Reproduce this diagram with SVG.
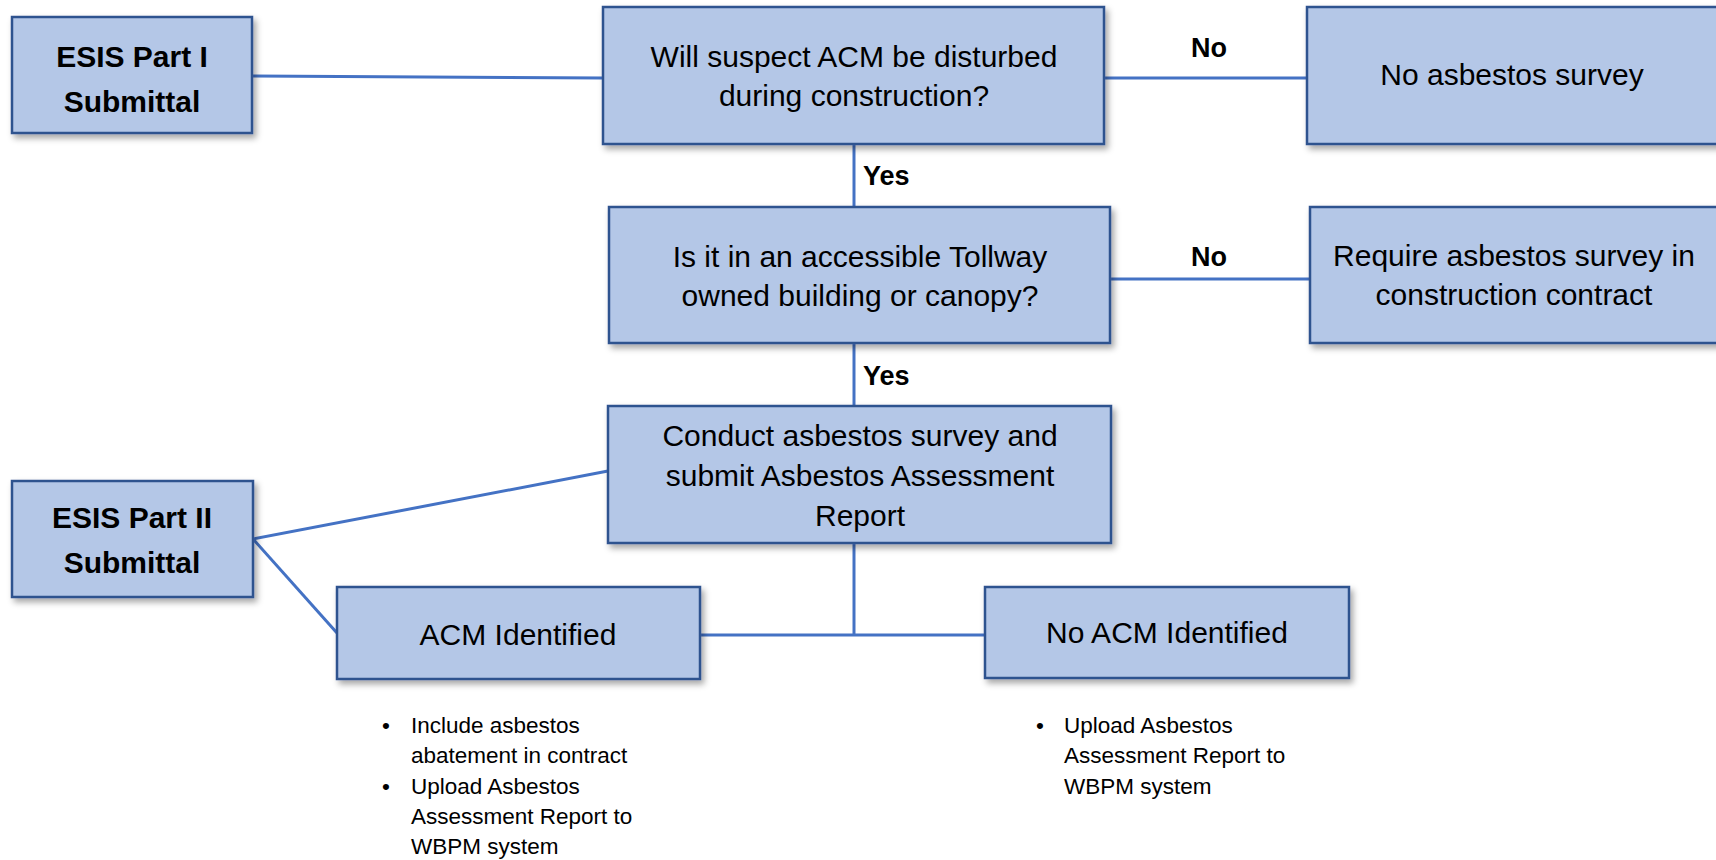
<svg xmlns="http://www.w3.org/2000/svg" width="1716" height="860" viewBox="0 0 1716 860">
  <defs>
    <filter id="shadow" x="-10%" y="-10%" width="130%" height="140%">
      <feDropShadow dx="3" dy="4" stdDeviation="3" flood-color="#000" flood-opacity="0.35"/>
    </filter>
  </defs>
  <style>
    .box { fill: #B4C7E7; stroke: #2F528F; stroke-width: 2.5; filter: url(#shadow); }
    .t { font-family: "Liberation Sans", Arial, sans-serif; font-size: 30px; fill: #000; text-anchor: middle; }
    .b { font-family: "Liberation Sans", Arial, sans-serif; font-size: 30px; font-weight: bold; fill: #000; text-anchor: middle; }
    .lbl { font-family: "Liberation Sans", Arial, sans-serif; font-size: 27px; font-weight: bold; fill: #000; }
    .note { font-family: "Liberation Sans", Arial, sans-serif; font-size: 22.5px; fill: #000; }
    .conn { stroke: #4472C4; stroke-width: 3; fill: none; }
  </style>
  <rect width="1716" height="860" fill="#FFFFFF"/>

  <!-- connectors -->
  <g id="connectors">
    <line class="conn" x1="253" y1="76" x2="603" y2="78"/>
    <line class="conn" x1="1104" y1="78" x2="1307" y2="78"/>
    <line class="conn" x1="854" y1="144" x2="854" y2="207"/>
    <line class="conn" x1="1110" y1="279" x2="1310" y2="279"/>
    <line class="conn" x1="854" y1="343" x2="854" y2="406"/>
    <line class="conn" x1="253" y1="539" x2="608" y2="471"/>
    <line class="conn" x1="253" y1="539" x2="337" y2="633"/>
    <line class="conn" x1="854" y1="543" x2="854" y2="635"/>
    <line class="conn" x1="700" y1="635" x2="985" y2="635"/>
    <text class="lbl" x="1209" y="57" text-anchor="middle">No</text>
    <text class="lbl" x="863" y="185">Yes</text>
    <text class="lbl" x="1209" y="266" text-anchor="middle">No</text>
    <text class="lbl" x="863" y="385">Yes</text>
  </g>

  <g id="esis-part-1">
    <rect class="box" x="12" y="17" width="240" height="116"/>
    <text class="b" x="132" y="67">ESIS Part I</text>
    <text class="b" x="132" y="112">Submittal</text>
  </g>

  <g id="q-disturbed">
    <rect class="box" x="603" y="7" width="501" height="137"/>
    <text class="t" x="854" y="67">Will suspect ACM be disturbed</text>
    <text class="t" x="854" y="106">during construction?</text>
  </g>

  <g id="no-survey">
    <rect class="box" x="1307" y="7" width="414" height="137"/>
    <text class="t" x="1512" y="85">No asbestos survey</text>
  </g>

  <g id="q-tollway">
    <rect class="box" x="609" y="207" width="501" height="136"/>
    <text class="t" x="860" y="267">Is it in an accessible Tollway</text>
    <text class="t" x="860" y="306">owned building or canopy?</text>
  </g>

  <g id="require-survey">
    <rect class="box" x="1310" y="207" width="411" height="136"/>
    <text class="t" x="1514" y="266">Require asbestos survey in</text>
    <text class="t" x="1514" y="305">construction contract</text>
  </g>

  <g id="conduct-survey">
    <rect class="box" x="608" y="406" width="503" height="137"/>
    <text class="t" x="860" y="446">Conduct asbestos survey and</text>
    <text class="t" x="860" y="486">submit Asbestos Assessment</text>
    <text class="t" x="860" y="526">Report</text>
  </g>

  <g id="esis-part-2">
    <rect class="box" x="12" y="481" width="241" height="116"/>
    <text class="b" x="132" y="528">ESIS Part II</text>
    <text class="b" x="132" y="573">Submittal</text>
  </g>

  <g id="acm-identified">
    <rect class="box" x="337" y="587" width="363" height="92"/>
    <text class="t" x="518" y="645">ACM Identified</text>
  </g>

  <g id="no-acm-identified">
    <rect class="box" x="985" y="587" width="364" height="91"/>
    <text class="t" x="1167" y="643">No ACM Identified</text>
  </g>

  <g id="acm-notes">
    <text class="note" x="386" y="733" text-anchor="middle">•</text>
    <text class="note" x="411" y="733">Include asbestos</text>
    <text class="note" x="411" y="763">abatement in contract</text>
    <text class="note" x="386" y="794" text-anchor="middle">•</text>
    <text class="note" x="411" y="794">Upload Asbestos</text>
    <text class="note" x="411" y="824">Assessment Report to</text>
    <text class="note" x="411" y="854">WBPM system</text>
  </g>

  <g id="no-acm-notes">
    <text class="note" x="1040" y="733" text-anchor="middle">•</text>
    <text class="note" x="1064" y="733">Upload Asbestos</text>
    <text class="note" x="1064" y="763">Assessment Report to</text>
    <text class="note" x="1064" y="794">WBPM system</text>
  </g>
</svg>
